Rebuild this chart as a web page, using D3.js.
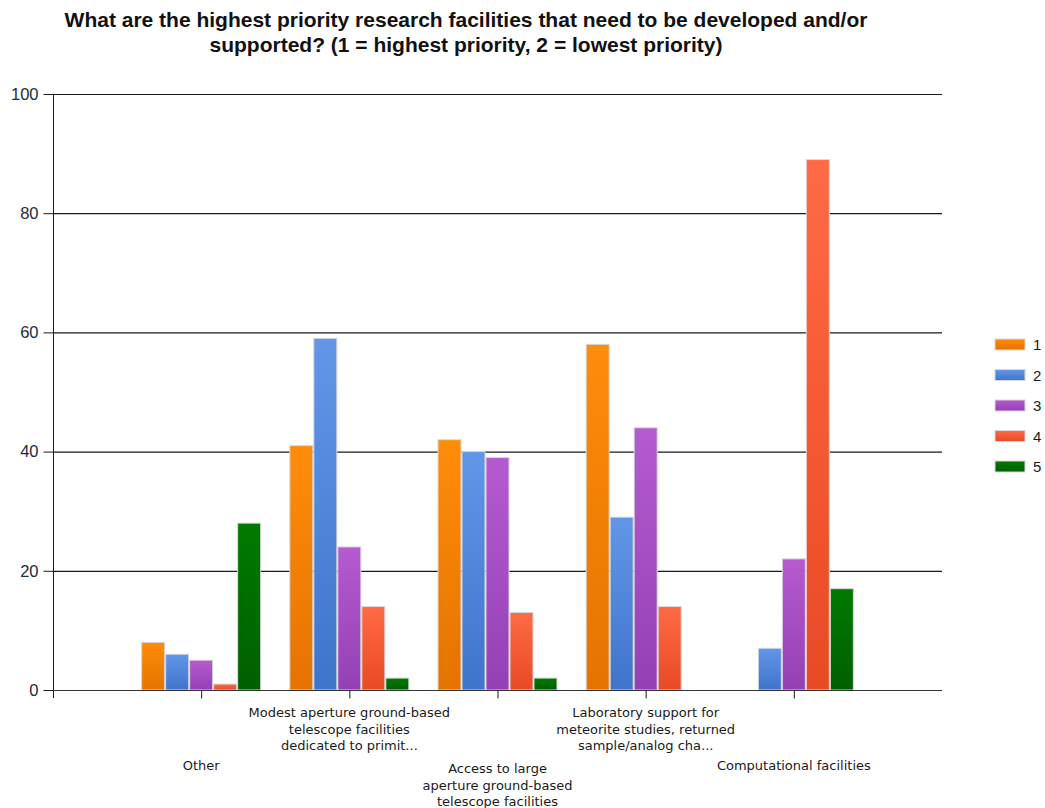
<!DOCTYPE html>
<html>
<head>
<meta charset="utf-8">
<script src="https://cdn.jsdelivr.net/npm/d3@7"></script>
<style>
  body { margin: 0; background: #fff; }
  svg { display: block; }
</style>
</head>
<body>
<svg id="chart" width="1045" height="808"></svg>
<script>
// chart data
const categories = ['Other', 'Modest aperture', 'Access to large', 'Laboratory support', 'Computational'];
const categoryLabels = [
  ['Other'],
  ['Modest aperture ground-based', 'telescope facilities', 'dedicated to primit...'],
  ['Access to large', 'aperture ground-based', 'telescope facilities'],
  ['Laboratory support for', 'meteorite studies, returned', 'sample/analog  cha...'],
  ['Computational facilities']
];
const seriesNames = ['1', '2', '3', '4', '5'];
const series1 = [8, 41, 42, 58, 0];
const series2 = [6, 59, 40, 29, 7];
const series3 = [5, 24, 39, 44, 22];
const series4 = [1, 14, 13, 14, 89];
const series5 = [28, 2, 2, 0, 17];
const yTicks = [0, 20, 40, 60, 80, 100];
const titleLines = [
  'What are the highest priority research facilities that need to be developed and/or',
  'supported? (1 = highest priority, 2 = lowest priority)'
];

// colours: [top, bottom] of each bar's gradient
const colors = [
  ['#ff8c0a', '#e67300'],
  ['#6196e8', '#3f74cc'],
  ['#b65ad0', '#9440b4'],
  ['#ff6a44', '#e84a24'],
  ['#007a00', '#005f00']
];

const allSeries = [series1, series2, series3, series4, series5];
const svg = d3.select('#chart');
const margin = { left: 53, right: 942, top: 94, bottom: 690 };

// gradients
const defs = svg.append('defs');
colors.forEach((c, i) => {
  const g = defs.append('linearGradient')
    .attr('id', 'grad' + i)
    .attr('x1', 0).attr('x2', 0).attr('y1', 0).attr('y2', 1);
  g.append('stop').attr('offset', '0%').attr('stop-color', c[0]);
  g.append('stop').attr('offset', '100%').attr('stop-color', c[1]);
});

// scales
const x = d3.scalePoint()
  .domain(categories)
  .range([margin.left, margin.right])
  .padding(1);

const barWidth = 24;
const xInner = d3.scaleBand()
  .domain(seriesNames)
  .range([-barWidth * 2.5, barWidth * 2.5]);

const y = d3.scaleLinear()
  .domain([0, 100])
  .range([margin.bottom, margin.top]);

// title
svg.append('g')
  .selectAll('text')
  .data(titleLines)
  .enter()
  .append('text')
    .attr('x', 466)
    .attr('y', (d, i) => 27 + i * 25)
    .attr('text-anchor', 'middle')
    .attr('font-family', 'Arial, "Liberation Sans", sans-serif')
    .attr('font-weight', 'bold')
    .attr('font-size', '21px')
    .attr('fill', '#111')
    .text(d => d);

// gridlines
svg.append('g')
  .selectAll('line')
  .data(yTicks.filter(t => t > 0))
  .enter()
  .append('line')
    .attr('x1', margin.left)
    .attr('x2', margin.right)
    .attr('y1', d => y(d) + 0.5)
    .attr('y2', d => y(d) + 0.5)
    .attr('stroke', '#1a1a1a')
    .attr('stroke-width', 1.2);

// y axis
const yAxis = svg.append('g')
  .attr('transform', `translate(${margin.left + 0.5},0)`)
  .call(d3.axisLeft(y).tickValues(yTicks).tickSize(10).tickPadding(5));
yAxis.select('.domain')
  .attr('d', `M0,${margin.top}V${margin.bottom + 8}`)
  .attr('stroke', '#1a1a1a');
yAxis.selectAll('.tick line').attr('stroke', '#1a1a1a');
yAxis.selectAll('.tick text')
  .attr('font-family', 'Arial, "Liberation Sans", sans-serif')
  .attr('font-size', '16.5px')
  .attr('fill', '#1e2a3a');

// bars
const groups = svg.append('g')
  .selectAll('g')
  .data(categories)
  .enter()
  .append('g')
    .attr('transform', d => `translate(${x(d)},0)`);

groups.selectAll('rect')
  .data((d, ci) => allSeries.map((s, si) => ({ name: seriesNames[si], value: s[ci], si })))
  .enter()
  .filter(d => d.value > 0)
  .append('rect')
    .attr('x', d => xInner(d.name) + 0.5)
    .attr('width', xInner.bandwidth() - 1)
    .attr('y', d => y(d.value))
    .attr('height', d => y(0) - y(d.value))
    .attr('fill', d => `url(#grad${d.si})`)
    .attr('stroke', '#d8d8d8')
    .attr('stroke-width', 1);

// x axis
const xAxis = svg.append('g')
  .attr('transform', `translate(0,${margin.bottom + 0.5})`)
  .call(d3.axisBottom(x).tickSize(8).tickFormat(''));
xAxis.select('.domain')
  .attr('d', `M${margin.left},0H${margin.right}`)
  .attr('stroke', '#333');
xAxis.selectAll('.tick line').attr('stroke', '#1a1a1a');

// category labels, staggered
const labels = svg.append('g')
  .selectAll('text')
  .data(categories)
  .enter()
  .append('text')
    .attr('text-anchor', 'middle')
    .attr('font-family', '"DejaVu Sans", sans-serif')
    .attr('font-size', '13px')
    .attr('fill', '#1a1a1a')
    .attr('transform', (d, i) => {
      const lines = categoryLabels[i].length;
      let top = i % 2 === 1 ? 717 : 773;
      if (lines === 1) top = 770;
      return `translate(${x(d)},${top})`;
    });
labels.selectAll('tspan')
  .data((d, i) => categoryLabels[i])
  .enter()
  .append('tspan')
    .attr('x', 0)
    .attr('dy', (d, i) => i === 0 ? 0 : 16.5)
    .text(d => d);

// legend
const legend = svg.append('g')
  .attr('transform', 'translate(995,339)');
const legendItem = legend.selectAll('g')
  .data(seriesNames)
  .enter()
  .append('g')
    .attr('transform', (d, i) => `translate(0,${i * 30.5})`);
legendItem.append('rect')
  .attr('width', 30)
  .attr('height', 11)
  .attr('fill', (d, i) => `url(#grad${i})`)
  .attr('stroke', '#d8d8d8');
legendItem.append('text')
  .attr('x', 38)
  .attr('y', 11)
  .attr('font-family', 'Arial, "Liberation Sans", sans-serif')
  .attr('font-size', '15px')
  .attr('fill', '#1a1a1a')
  .text(d => d);
</script>
</body>
</html>
